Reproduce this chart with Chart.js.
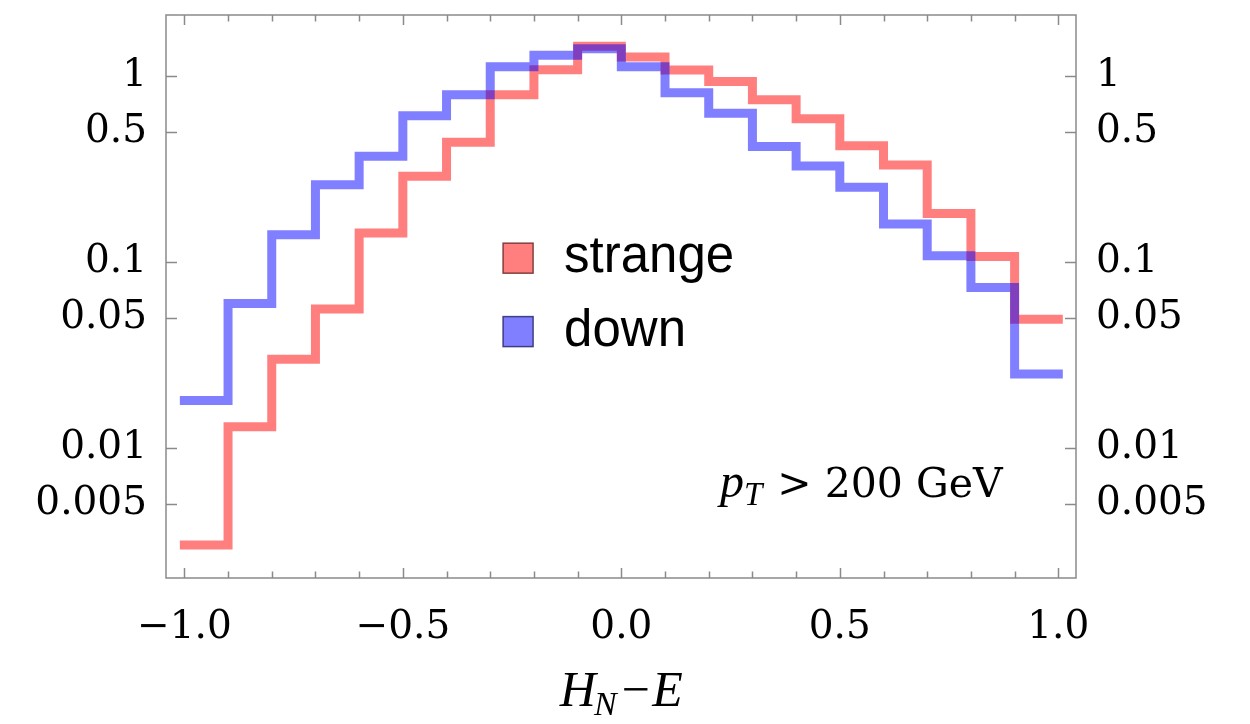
<!DOCTYPE html>
<html><head><meta charset="utf-8">
<script src="https://cdn.jsdelivr.net/npm/chart.js@4.4.1/dist/chart.umd.min.js"></script>
<style>html,body{margin:0;padding:0;background:#fff;}#wrap{width:1250px;height:724px;}</style>
</head><body><div id="wrap"><canvas id="c" width="1250" height="724"></canvas></div>
<script>
const binEdges = [-1.0,-0.9,-0.8,-0.7,-0.6,-0.5,-0.4,-0.3,-0.2,-0.1,0.0,0.1,0.2,0.3,0.4,0.5,0.6,0.7,0.8,0.9,1.0];
const strangeValues = [0.0030,0.0130,0.0300,0.0559,0.143,0.289,0.441,0.793,1.081,1.445,1.266,1.077,0.936,0.745,0.589,0.422,0.332,0.182,0.107,0.0492];
const downValues = [0.0180,0.0598,0.140,0.260,0.370,0.611,0.793,1.122,1.292,1.403,1.122,0.813,0.630,0.418,0.328,0.252,0.160,0.108,0.0729,0.0250];
const xTickValues = [-1.0,-0.5,0.0,0.5,1.0];
const xTickLabels = ['−1.0','−0.5','0.0','0.5','1.0'];
const yTickValues = [1,0.5,0.1,0.05,0.01,0.005];
const yTickLabels = ['1','0.5','0.1','0.05','0.01','0.005'];
const seriesLabels = ['strange','down'];

function stepPoints(values){
  const pts = values.map((v,i)=>({x:binEdges[i], y:v}));
  pts.push({x:binEdges[values.length], y:values[values.length-1]});
  return pts;
}

const fills = ['rgba(255,0,0,0.5)','rgba(0,0,255,0.5)'];
const legendEdges = ['rgba(120,50,50,0.9)','rgba(50,50,120,0.9)'];
const tickFont = {family:'DejaVu Serif', size:39};

function noPad(scale){ scale.paddingTop = 0; scale.paddingBottom = 0; scale.paddingLeft = 0; scale.paddingRight = 0; }

const decor = {
  id:'decor',
  afterDraw(chart){
    const ctx = chart.ctx, a = chart.chartArea;
    const xs = chart.scales.x, ys = chart.scales.y;
    ctx.save();
    ctx.strokeStyle = '#8a8a8a';
    ctx.lineWidth = 1.5;
    ctx.strokeRect(a.left, a.top, a.right-a.left, a.bottom-a.top);
    ctx.beginPath();
    binEdges.forEach(v=>{
      const px = Math.round(xs.getPixelForValue(v))+0.5;
      const len = xTickValues.includes(v) ? 10 : 6.5;
      ctx.moveTo(px, a.bottom); ctx.lineTo(px, a.bottom-len);
      ctx.moveTo(px, a.top); ctx.lineTo(px, a.top+len);
    });
    yTickValues.forEach(v=>{
      const py = Math.round(ys.getPixelForValue(v))+0.5;
      ctx.moveTo(a.left, py); ctx.lineTo(a.left+11, py);
      ctx.moveTo(a.right, py); ctx.lineTo(a.right-11, py);
    });
    ctx.stroke();

    // legend
    const lx = xs.getPixelForValue(-0.2706);
    const rows = [ys.getPixelForValue(0.1048), ys.getPixelForValue(0.0422)];
    seriesLabels.forEach((lab,i)=>{
      const cy = rows[i];
      ctx.fillStyle = '#fff';
      ctx.fillRect(lx, cy-15, 30, 30);
      ctx.fillStyle = fills[i];
      ctx.fillRect(lx, cy-15, 30, 30);
      ctx.strokeStyle = legendEdges[i];
      ctx.lineWidth = 1.5;
      ctx.strokeRect(lx, cy-15, 30, 30);
      ctx.fillStyle = '#000';
      ctx.font = '51px "Liberation Sans"';
      ctx.textBaseline = 'alphabetic';
      ctx.textAlign = 'left';
      ctx.fillText(lab, lx+61, cy+14);
    });

    // annotation p_T > 200 GeV
    const pFont = 'italic 48px "Liberation Serif"';
    const tFont = 'italic 33px "Liberation Serif"';
    const rFont = '41px "DejaVu Serif"';
    const rest = ' > 200 GeV';
    ctx.font = pFont; const wp = ctx.measureText('p').width;
    ctx.font = tFont; const wt = ctx.measureText('T').width;
    ctx.font = rFont; const wr = ctx.measureText(rest).width;
    const total = wp + wt + 2 + wr;
    const cx = xs.getPixelForValue(0.549);
    const by = ys.getPixelForValue(0.00542);
    let x0 = cx - total/2;
    ctx.fillStyle = '#000';
    ctx.font = pFont; ctx.fillText('p', x0, by); x0 += wp;
    ctx.font = tFont; ctx.fillText('T', x0, by+8); x0 += wt + 2;
    ctx.font = rFont; ctx.fillText(rest, x0, by);

    // x axis title H_N - E
    const hF = 'italic 50px "Liberation Serif"';
    const nF = 'italic 34px "Liberation Serif"';
    ctx.font = hF; const wH = ctx.measureText('H').width;
    ctx.font = nF; const wN = ctx.measureText('N').width;
    ctx.font = hF; const wE = ctx.measureText('−E').width;
    const tt = wH + wN + wE;
    let tx = xs.getPixelForValue(0) - tt/2;
    const ty = a.bottom + 128;
    ctx.font = hF; ctx.fillText('H', tx, ty); tx += wH;
    ctx.font = nF; ctx.fillText('N', tx-2, ty+9); tx += wN;
    ctx.font = hF; ctx.fillText('−E', tx, ty);
    ctx.restore();
  }
};

const yAxisCommon = {
  type:'logarithmic',
  min:0.001995, max:2.13,
  grid:{display:false},
  border:{display:false},
  afterBuildTicks(axis){ axis.ticks = yTickValues.map(v=>({value:v})); },
  ticks:{
    font:tickFont, color:'#000', autoSkip:false,
    callback:(v,i)=>{ const k = yTickValues.indexOf(v); return k>=0 ? yTickLabels[k] : ''; }
  }
};

new Chart(document.getElementById('c'), {
  type:'line',
  data:{
    datasets:[
      {label:seriesLabels[0], data:stepPoints(strangeValues), borderColor:fills[0], borderWidth:9,
       stepped:true, pointRadius:0, borderCapStyle:'square', borderJoinStyle:'miter', fill:false, order:1},
      {label:seriesLabels[1], data:stepPoints(downValues), borderColor:fills[1], borderWidth:9,
       stepped:true, pointRadius:0, borderCapStyle:'square', borderJoinStyle:'miter', fill:false, order:0}
    ]
  },
  options:{
    responsive:false, animation:false, devicePixelRatio:1,
    layout:{padding:{top:15,left:0,right:0,bottom:0}},
    plugins:{legend:{display:false}, tooltip:{enabled:false}},
    scales:{
      x:{
        type:'linear', min:-1.042, max:1.0405,
        grid:{display:false}, border:{display:false},
        afterBuildTicks(axis){ axis.ticks = xTickValues.map(v=>({value:v})); },
        afterFit(scale){ scale.height = 146; noPad(scale); },
        ticks:{font:tickFont, color:'#000', padding:18, maxRotation:0, autoSkip:false,
          callback:(v)=>{ const k = xTickValues.indexOf(v); return k>=0 ? xTickLabels[k] : ''; }}
      },
      y:Object.assign({}, yAxisCommon, {position:'left',
        afterFit(scale){ scale.width = 166; noPad(scale); },
        ticks:Object.assign({}, yAxisCommon.ticks, {padding:11})}),
      y2:Object.assign({}, yAxisCommon, {position:'right',
        afterFit(scale){ scale.width = 174; noPad(scale); },
        ticks:Object.assign({}, yAxisCommon.ticks, {padding:12})})
    }
  },
  plugins:[decor]
});
</script></body></html>
